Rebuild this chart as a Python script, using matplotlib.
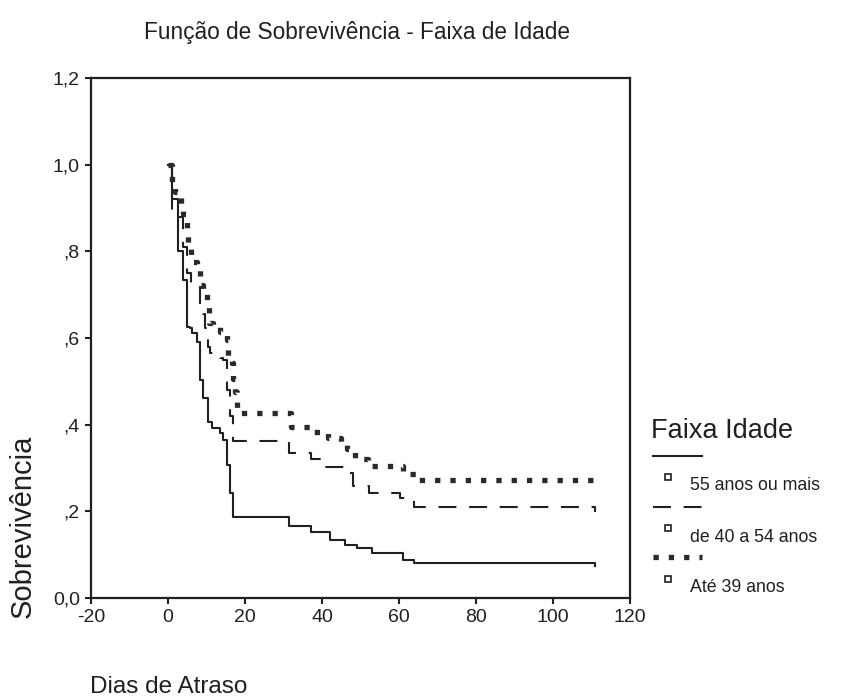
import matplotlib
matplotlib.use("Agg")
import matplotlib.pyplot as plt
from matplotlib.lines import Line2D

plt.rcParams['font.family'] = ['Liberation Sans', 'DejaVu Sans']
plt.rcParams['axes.unicode_minus'] = False

# ---- data ----
title = "Função de Sobrevivência - Faixa de Idade"
x_label = "Dias de Atraso"
y_label = "Sobrevivência"
legend_title = "Faixa Idade"
groups = ["55 anos ou mais", "de 40 a 54 anos", "Até 39 anos"]

t_55 = [0, 1.0, 2.6, 3.9, 5.0, 5.7, 6.3, 7.6, 8.4, 9.1, 10.4, 11.5, 13.6, 14.4,
        15.4, 16.2, 17.0, 31.3, 37.1, 42.0, 46.0, 49.0, 53.0, 61.0, 64.0, 111.0]
s_55 = [1.0, 0.92, 0.80, 0.734, 0.626, 0.624, 0.612, 0.591, 0.503, 0.462, 0.406,
        0.393, 0.381, 0.365, 0.307, 0.242, 0.187, 0.166, 0.152, 0.134, 0.122,
        0.115, 0.104, 0.088, 0.081, 0.074]

t_40 = [0, 1.0, 3.9, 5.0, 6.0, 8.4, 9.1, 9.5, 10.4, 11.0, 13.6, 14.4, 15.4, 16.2,
        17.0, 31.3, 37.1, 41.0, 45.7, 48.0, 52.2, 60.3, 64.0, 111.0]
s_40 = [1.0, 0.88, 0.81, 0.75, 0.72, 0.665, 0.655, 0.624, 0.58, 0.565, 0.555,
        0.55, 0.48, 0.42, 0.363, 0.335, 0.321, 0.303, 0.289, 0.259, 0.242, 0.231,
        0.21, 0.199]

t_39 = [0, 1.0, 1.8, 3.4, 3.9, 5.0, 5.2, 6.0, 6.5, 7.6, 8.1, 8.2, 9.1, 10.2, 10.7,
        11.7, 13.6, 15.4, 15.7, 16.7, 16.8, 17.5, 18.0, 18.2, 31.9, 37.1, 41.5,
        45.0, 46.5, 48.5, 52.0, 53.0, 61.0, 65.0, 111.0]
s_39 = [1.0, 0.96, 0.938, 0.90, 0.885, 0.85, 0.815, 0.792, 0.776, 0.764, 0.757,
        0.723, 0.702, 0.672, 0.635, 0.626, 0.614, 0.596, 0.554, 0.543, 0.506,
        0.476, 0.439, 0.427, 0.395, 0.383, 0.37, 0.36, 0.344, 0.321, 0.314,
        0.305, 0.286, 0.273, 0.263]

x_ticks = [-20, 0, 20, 40, 60, 80, 100, 120]
y_ticks = [0.0, 0.2, 0.4, 0.6, 0.8, 1.0, 1.2]
y_tick_labels = ["0,0", ",2", ",4", ",6", ",8", "1,0", "1,2"]

# ---- figure ----
W, H = 843, 698
fig = plt.figure(figsize=(W / 100, H / 100), dpi=100)
ax = fig.add_axes([91 / W, 1 - 598 / H, (630 - 91) / W, (598 - 78) / H])

col = '#231f20'
ax.step(t_55, s_55, where='post', color=col, lw=1.5)
ax.step(t_40, s_40, where='post', color=col, lw=1.5, dashes=(8.6, 6.1))
ax.step(t_39, s_39, where='post', color='#2a2a2a', lw=3.8, dashes=(1.0, 1.9),
        solid_capstyle='butt', dash_capstyle='butt')

ax.set_xlim(-20, 120)
ax.set_ylim(0, 1.2)
ax.set_xticks(x_ticks)
ax.set_yticks(y_ticks)
ax.set_yticklabels(y_tick_labels)
ax.tick_params(direction='out', length=4, width=1.5, labelsize=14, color=col,
               labelcolor=col, pad=4)
for s in ax.spines.values():
    s.set_linewidth(1.6)
    s.set_color(col)

fig.text(357 / W, 1 - 33 / H, title, ha='center', va='center', fontsize=16.3,
         color=col)
fig.text(90 / W, 1 - 687 / H, x_label, ha='left', va='center', fontsize=17.5,
         color=col)
fig.text(23 / W, 1 - 526 / H, y_label, ha='center', va='center', fontsize=21,
         rotation=90, color=col)

# ---- legend (drawn in figure coordinates) ----
def fx(px):
    return px / W

def fy(py):
    return 1 - py / H

fig.text(fx(651), fy(431), legend_title, ha='left', va='center', fontsize=19.5,
         color=col)
samples = [
    dict(color=col, lw=1.5, linestyle='-'),
    dict(color=col, lw=1.5, dashes=(8.6, 6.1)),
    dict(color='#2a2a2a', lw=3.8, dashes=(1.0, 1.9), dash_capstyle='butt'),
]
line_y = [456, 507, 557]
sq_y = [477, 528, 579]
lab_y = [486, 538, 588]
for g, st, ly, sy, lb in zip(groups, samples, line_y, sq_y, lab_y):
    fig.add_artist(Line2D([fx(653), fx(702)], [fy(ly), fy(ly)],
                          transform=fig.transFigure, **st))
    fig.add_artist(Line2D([fx(668)], [fy(sy)], transform=fig.transFigure,
                          marker='s', markersize=5, markerfacecolor='white',
                          markeredgecolor=col, markeredgewidth=1.2,
                          linestyle='none'))
    fig.text(fx(690), fy(lb), g, ha='left', va='center', fontsize=12.8,
             color=col)

fig.savefig("out.png", dpi=100)
